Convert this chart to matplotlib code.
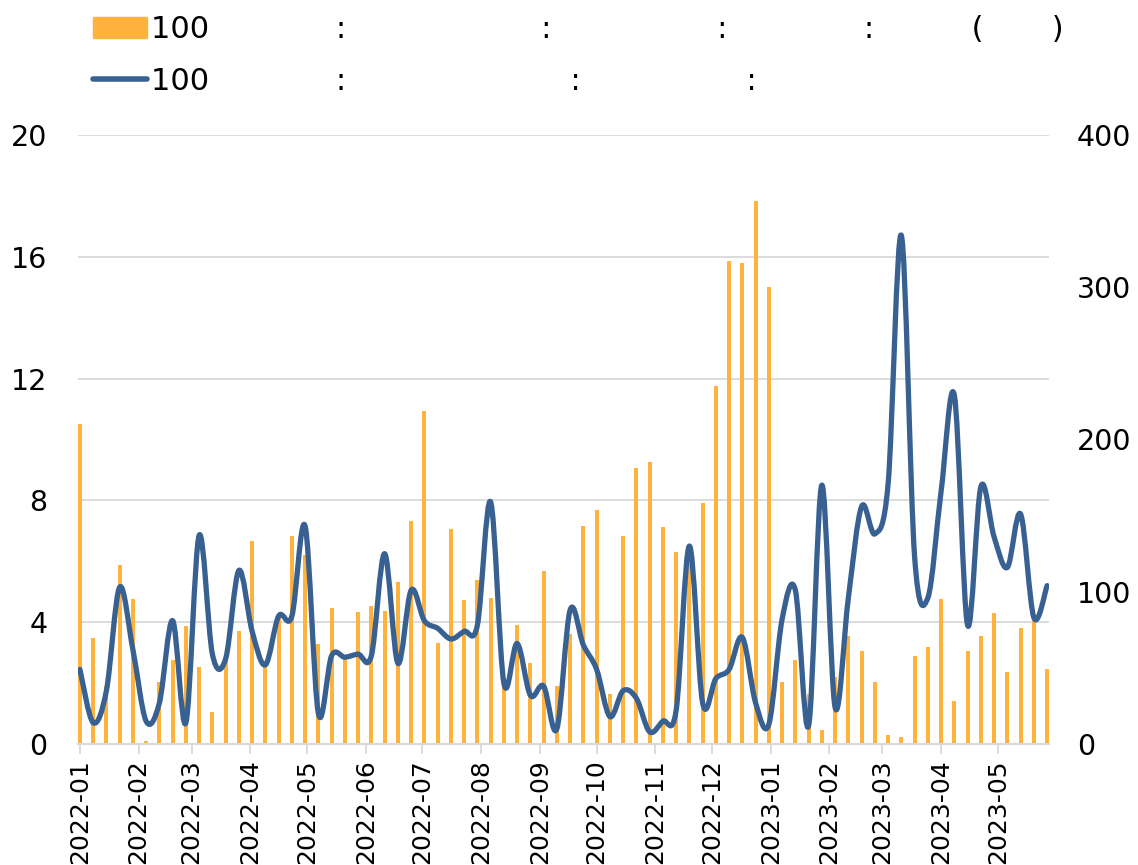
import numpy as np
import pandas as pd
import matplotlib
matplotlib.use("Agg")
import matplotlib.pyplot as plt
import matplotlib.dates as mdates
from matplotlib.path import Path
from matplotlib.patches import PathPatch
from matplotlib.lines import Line2D

# ---------------- data ----------------
start_date = "2022-01-01"

bar_values = [10.52, 3.48, 1.9, 5.87, 4.76, 0.1, 2.05, 2.76, 3.86, 2.52,
              1.05, 2.9, 3.72, 6.66, 2.6, 4.2, 6.82, 6.2, 3.27, 4.46,
              2.8, 4.32, 4.52, 4.36, 5.32, 7.32, 10.93, 3.31, 7.07, 4.72,
              5.38, 4.78, 2.0, 3.92, 2.66, 5.68, 1.9, 3.6, 7.16, 7.67,
              1.65, 6.82, 9.07, 9.26, 7.12, 6.31, 6.4, 7.92, 11.77, 15.87,
              15.81, 17.82, 15.01, 2.02, 2.76, 1.64, 0.45, 2.2, 3.55, 3.04,
              2.04, 0.3, 0.24, 2.89, 3.19, 4.75, 1.42, 3.05, 3.55, 4.31,
              2.35, 3.8, 4.05, 2.45]

line_values = [49, 14, 35, 103, 62, 15, 27, 81, 14, 137,
               59, 56, 114, 74, 52, 84, 84, 143, 20, 58,
               57, 59, 58, 125, 53, 101, 81, 76, 69, 74,
               78, 159, 40, 66, 32, 38, 10, 88, 65, 49,
               18, 35, 30, 8, 15, 22, 130, 27, 43, 49,
               70, 27, 13, 82, 101, 12, 170, 24, 96, 156,
               138, 171, 334, 123, 96, 166, 229, 78, 169, 136,
               116, 151, 83, 104]

tick_months = pd.date_range("2022-01-01", "2023-05-01", freq="MS")

# legend labels as they appear (non-Latin glyphs show as blanks in the reference)
bar_label = "100" + " " * 13 + ":" + " " * 20 + ":" + " " * 17 + ":" + " " * 14 + ":" + " " * 10 + "(" + " " * 7 + ")"
line_label = "100" + " " * 13 + ":" + " " * 23 + ":" + " " * 17 + ":"

left_ticks = [0, 4, 8, 12, 16, 20]
right_ticks = [0, 100, 200, 300, 400]

# ---------------- style ----------------
ORANGE = "#FFB23C"
BLUE = "#386192"
GRID = "#D9D9D9"

plt.rcParams["font.family"] = ["DejaVu Sans"]

dates = pd.date_range(start_date, periods=len(bar_values), freq="7D")
xnum = mdates.date2num(dates)

W, H = 1138, 865
fig = plt.figure(figsize=(W / 100, H / 100), dpi=100)
ax = fig.add_axes([78 / W, 121 / H, 971 / W, 609 / H])
ax2 = ax.twinx()

ax.bar(dates, bar_values, width=2.2, color=ORANGE, zorder=2)

# smoothed line (Bezier through each weekly point, like a spreadsheet "smooth line")
pts = np.column_stack([xnum, np.asarray(line_values, float)])
n = len(pts)
verts = [pts[0]]
codes = [Path.MOVETO]
for i in range(n - 1):
    p0 = pts[i - 1] if i > 0 else pts[i]
    p1 = pts[i]
    p2 = pts[i + 1]
    p3 = pts[i + 2] if i + 2 < n else pts[i + 1]
    c1 = p1 + (p2 - p0) / 6.0
    c2 = p2 - (p3 - p1) / 6.0
    verts += [c1, c2, p2]
    codes += [Path.CURVE4] * 3
path = Path(np.array(verts), codes)
ax2.add_patch(PathPatch(path, fill=False, edgecolor=BLUE, lw=3.8,
                        capstyle="round", joinstyle="round", zorder=3))

ax.set_xlim(xnum[0] - 1, xnum[-1] + 1)
ax.set_ylim(0, 20)
ax2.set_ylim(0, 400)
ax.set_yticks(left_ticks)
ax2.set_yticks(right_ticks)

ax.grid(axis="y", color=GRID, lw=1.3, zorder=0)
ax.set_axisbelow(True)
for s in ["left", "right", "top"]:
    ax.spines[s].set_visible(False)
    ax2.spines[s].set_visible(False)
ax2.spines["bottom"].set_visible(False)
ax.spines["bottom"].set_color(GRID)
ax.spines["bottom"].set_linewidth(1.5)

ax.set_xticks(tick_months)
ax.xaxis.set_major_formatter(mdates.DateFormatter("%Y-%m"))
ax.tick_params(axis="x", length=7, width=1.3, color=GRID, labelsize=18, pad=4)
plt.setp(ax.get_xticklabels(), rotation=90, ha="center")
ax.tick_params(axis="y", length=0, labelsize=20.5, pad=22)
ax2.tick_params(axis="y", length=0, labelsize=20.5, pad=20)

handles = [plt.Rectangle((0, 0), 1, 1, color=ORANGE),
           Line2D([0], [0], color=BLUE, lw=4, solid_capstyle="round")]
fig.legend(handles, [bar_label, line_label], loc="upper left",
           bbox_to_anchor=(84 / W, 1 - 6 / H), frameon=False, fontsize=22,
           handlelength=1.75, handletextpad=0.15, labelspacing=0.74,
           borderaxespad=0, borderpad=0.3)

fig.savefig("out.png", dpi=100)
